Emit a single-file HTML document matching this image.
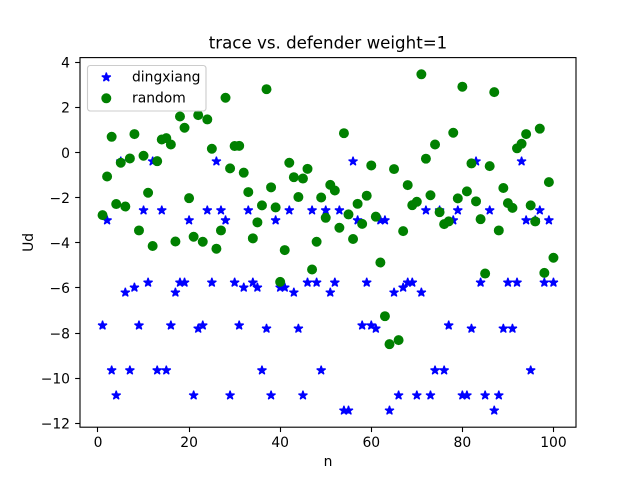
<!DOCTYPE html>
<html>
<head>
<meta charset="utf-8">
<title>trace vs. defender weight=1</title>
<style>
html,body{margin:0;padding:0;background:#fff;width:640px;height:480px;overflow:hidden}
svg{display:block}
text{font-family:"DejaVu Sans",sans-serif;fill:#000}
</style>
</head>
<body>
<svg id="chart" width="640" height="480" viewBox="0 0 640 480" xmlns="http://www.w3.org/2000/svg"></svg>
<script>
const xTicks = [0, 20, 40, 60, 80, 100];
const yTicks = [4, 2, 0, -2, -4, -6, -8, -10, -12];
const dingxiang = [-7.66,-3,-9.65,-10.76,-0.39,-6.2,-9.65,-5.98,-7.66,-2.56,
-5.76,-0.39,-9.65,-2.56,-9.65,-7.66,-6.2,-5.76,-5.76,-3,
-10.76,-7.8,-7.66,-2.56,-5.76,-0.39,-2.56,-3,-10.76,-5.76,
-7.66,-5.98,-2.56,-5.76,-5.98,-9.65,-7.8,-10.76,-3,-5.98,
-5.98,-2.56,-6.2,-7.8,-10.76,-5.76,-2.56,-5.76,-9.65,-2.56,
-6.2,-5.76,-2.56,-11.43,-11.43,-0.39,-3,-7.66,-5.76,-7.66,
-7.8,-3,-3,-11.43,-6.2,-10.76,-5.98,-5.76,-5.76,-10.76,
-6.2,-2.56,-10.76,-9.65,-2.56,-9.65,-7.66,-3,-2.56,-10.76,
-10.76,-7.8,-0.39,-5.76,-10.76,-2.56,-11.43,-10.76,-7.8,-5.76,
-7.8,-5.76,-0.39,-3,-9.65,-3,-2.56,-5.76,-3,-5.76];
const randomSeries = [-2.77,-1.06,0.70,-2.28,-0.45,-2.39,-0.26,0.82,-3.45,-0.14,
-1.78,-4.14,-0.38,0.58,0.64,0.36,-3.94,1.60,1.10,-2.02,
-3.73,1.66,-3.95,1.47,0.17,-4.26,-3.45,2.43,-0.70,0.29,
0.30,-0.89,-1.75,-3.80,-3.09,-2.34,2.81,-1.54,-2.43,-5.73,
-4.32,-0.45,-1.09,-1.97,-1.15,-0.72,-5.18,-3.95,-1.99,-2.89,
-1.43,-1.68,-3.33,0.86,-2.74,-3.83,-2.27,-3.16,-1.91,-0.57,
-2.84,-4.87,-7.25,-8.49,-0.73,-8.31,-3.48,-1.44,-2.33,-2.18,
3.47,-0.27,-1.89,0.36,-2.64,-3.17,-3.05,0.88,-2.03,2.92,
-1.72,-0.48,-2.16,-2.95,-5.36,-0.60,2.68,-3.45,-1.57,-2.24,
-2.45,0.19,0.39,0.82,-2.34,-3.05,1.06,-5.33,-1.31,-4.66];

const NS = 'http://www.w3.org/2000/svg';
const svg = document.getElementById('chart');
const plot = {left: 80, right: 576, top: 57.6, bottom: 427.2};
const xDomain = [-3.95, 104.95];
const yDomain = [-12.17, 4.21];

function xScale(v) {
  return plot.left + (v - xDomain[0]) / (xDomain[1] - xDomain[0]) * (plot.right - plot.left);
}
function yScale(v) {
  return plot.bottom - (v - yDomain[0]) / (yDomain[1] - yDomain[0]) * (plot.bottom - plot.top);
}
function make(tag, attrs, parent) {
  const el = document.createElementNS(NS, tag);
  for (const k in attrs) el.setAttribute(k, attrs[k]);
  (parent || svg).appendChild(el);
  return el;
}
function starPath(cx, cy, R) {
  const r = R * 0.381966;
  let d = '';
  for (let i = 0; i < 10; i++) {
    const rad = i % 2 ? r : R;
    const a = -Math.PI / 2 + i * Math.PI / 5;
    d += (i ? 'L' : 'M') + (cx + rad * Math.cos(a)).toFixed(2) + ' ' + (cy + rad * Math.sin(a)).toFixed(2);
  }
  return d + 'Z';
}
function fmt(v) {
  return v < 0 ? '\u2212' + Math.abs(v) : String(v);
}
const starR = 4.7;
const dotR = 4.3;
const edge = 1.39;
const starEdge = 1.2;

const bg = make('rect', {x: plot.left, y: plot.top, width: plot.right - plot.left, height: plot.bottom - plot.top, fill: '#fff'});



const blueGroup = make('g', {fill: '#0000ff', stroke: '#0000ff', 'stroke-width': starEdge, 'stroke-linejoin': 'bevel'});


dingxiang.forEach(function (v, i) {
  const p = make('path', {d: starPath(xScale(i + 1), yScale(v), starR)}, blueGroup);
  
  
});

const greenGroup = make('g', {fill: '#008000', stroke: '#008000', 'stroke-width': edge});


randomSeries.forEach(function (v, i) {
  const c = make('circle', {cx: xScale(i + 1), cy: yScale(v), r: dotR}, greenGroup);
  
  
});

xTicks.forEach(function (t) {
  const x = Math.round(xScale(t) - 0.5) + 0.5;
  const line = make('line', {x1: x, x2: x, y1: plot.bottom, y2: plot.bottom + 4.86, stroke: '#000', 'stroke-width': 1.11});
  
  
  const label = make('text', {x: xScale(t), y: 447, 'text-anchor': 'middle', 'font-size': 13.89});
  label.textContent = fmt(t);
  
  
});
yTicks.forEach(function (t) {
  const y = Math.round(yScale(t) - 0.5) + 0.5;
  const line = make('line', {x1: plot.left - 4.86, x2: plot.left, y1: y, y2: y, stroke: '#000', 'stroke-width': 1.11});
  
  
  const label = make('text', {x: 70, y: yScale(t) + 5.2, 'text-anchor': 'end', 'font-size': 13.89});
  label.textContent = fmt(t);
  
  
});

const frame = make('rect', {x: plot.left, y: plot.top, width: plot.right - plot.left, height: plot.bottom - plot.top, fill: 'none', stroke: '#000', 'stroke-width': 1.11});



const title = make('text', {x: 328, y: 48.5, 'text-anchor': 'middle', 'font-size': 16.67});
title.textContent = 'trace vs. defender weight=1';



const xTitle = make('text', {x: 328, y: 466, 'text-anchor': 'middle', 'font-size': 13.89});
xTitle.textContent = 'n';



const yTitle = make('text', {x: 0, y: 0, 'text-anchor': 'middle', 'font-size': 13.89, transform: 'translate(33 242.4) rotate(-90)'});
yTitle.textContent = 'Ud';



const legend = make('g', {});


const legendBox = make('rect', {x: 87.5, y: 65.5, width: 118.5, height: 45.5, rx: 2.8, fill: '#fff', 'fill-opacity': 0.8, stroke: '#cccccc', 'stroke-width': 1.11}, legend);



const legendStar = make('path', {d: starPath(106.3, 77.3, starR), fill: '#0000ff', stroke: '#0000ff', 'stroke-width': starEdge, 'stroke-linejoin': 'bevel'}, legend);


const legendText1 = make('text', {x: 132, y: 81.5, 'font-size': 13.89}, legend);
legendText1.textContent = 'dingxiang';



const legendDot = make('circle', {cx: 106.3, cy: 98.3, r: dotR, fill: '#008000', stroke: '#008000', 'stroke-width': edge}, legend);


const legendText2 = make('text', {x: 132, y: 102.3, 'font-size': 13.89}, legend);
legendText2.textContent = 'random';


</script>
</body>
</html>
